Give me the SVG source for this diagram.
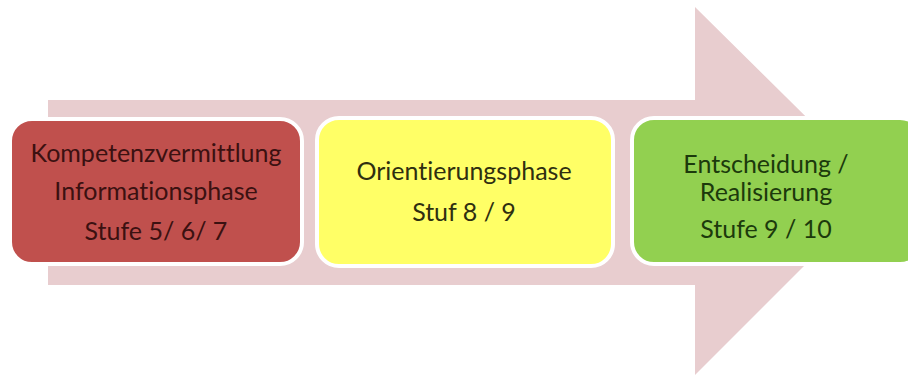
<svg xmlns="http://www.w3.org/2000/svg" width="908" height="381" viewBox="0 0 908 381">
<style>
.box{stroke:#ffffff;stroke-width:4}
.t{font-family:Lato,"Open Sans","Liberation Sans",sans-serif;font-size:25px;text-anchor:middle;font-variant-ligatures:none}
</style>
<rect width="908" height="381" fill="#ffffff"/>
<g id="arrow">
<polygon points="48,100 695,100 695,7 880,190 695,375 695,285 48,285" fill="#e8cdcf"/>
</g>
<g id="connectors"></g>
<g id="node1">
<rect class="box" x="10" y="119" width="292" height="145" rx="22" fill="#c0504d"/>
<text class="t" fill="#3b1111"><tspan x="156" y="162">Kompetenzvermittlung</tspan><tspan x="156" y="200">Informationsphase</tspan><tspan x="156" y="240">Stufe 5/ 6/ 7</tspan></text>
</g>
<g id="node2">
<rect class="box" x="317" y="118" width="296" height="148" rx="22" fill="#ffff66"/>
<text class="t" fill="#2f2f10"><tspan x="464" y="180">Orientierungsphase</tspan><tspan x="464" y="221">Stuf 8 / 9</tspan></text>
</g>
<g id="node3">
<rect class="box" x="632" y="118" width="290" height="146" rx="22" fill="#92d050"/>
<text class="t" fill="#1c3a0c"><tspan x="766" y="173">Entscheidung /</tspan><tspan x="766" y="201">Realisierung</tspan><tspan x="766" y="238">Stufe 9 / 10</tspan></text>
</g>
</svg>
